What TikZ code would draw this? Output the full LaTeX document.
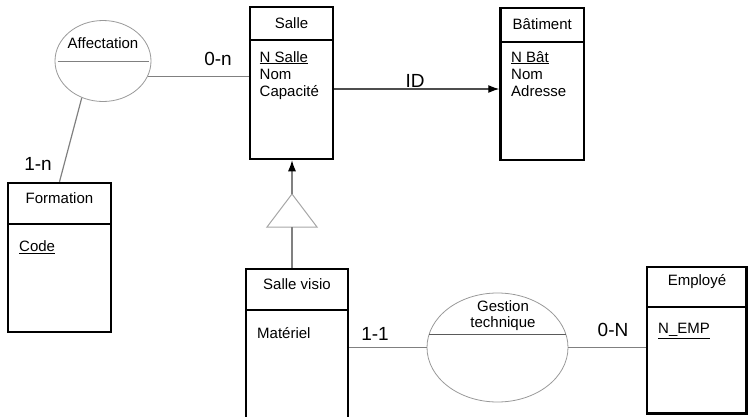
\documentclass[tikz,border=0pt]{standalone}
\usepackage{fontspec}
\setmainfont{Liberation Sans}
\usetikzlibrary{shapes.geometric,arrows.meta}
\definecolor{conn}{HTML}{808080}
\tikzset{
  entity/.style={draw=black, line width=2.5pt, rectangle, inner sep=0pt},
  sepline/.style={draw=black, line width=2.5pt},
  assoc/.style={draw=conn!80, line width=0.8pt, ellipse, inner sep=0pt},
  link/.style={draw=conn, line width=1.2pt},
  tip/.style={-{Latex[length=11pt,width=8pt,color=black]}},
  txt/.style={inner sep=0pt, font=\fontsize{15}{17}\selectfont},
  attr/.style={txt, anchor=west, align=left},
  card/.style={inner sep=0pt, font=\fontsize{19}{22}\selectfont},
}
\begin{document}
\begin{tikzpicture}[x=1pt,y=-1pt]
\useasboundingbox (0,0) rectangle (748,416);
\clip (0,0) rectangle (748,416);
% entities
\node[entity, minimum width=83pt, minimum height=152pt] (salle) at (291.5,83) {};
\draw[sepline] (250,40) -- (333,40);
\node[txt] (salleT) at (291.5,23) {Salle};
\node[txt, anchor=north west, align=left] (salleA) at (259.5,51) {\underline{N Salle}\\Nom\\Capacité};

\node[entity, minimum width=83.5pt, minimum height=152pt] (bat) at (542.25,84) {};
\draw[sepline] (500.5,42) -- (584,42);
\node[txt] (batT) at (542.25,24) {Bâtiment};
\node[txt, anchor=north west, align=left] (batA) at (511,51) {\underline{N Bât}\\Nom\\Adresse};

\node[entity, minimum width=103pt, minimum height=149pt] (form) at (59.5,257.5) {};
\draw[sepline] (8,224) -- (111,224);
\node[txt] (formT) at (59.5,198) {Formation};
\node[attr] (formA) at (19,247) {\underline{Code}};

\node[entity, minimum width=102pt, minimum height=171pt] (visio) at (297,354.5) {};
\draw[sepline] (246,310) -- (348,310);
\node[txt] (visioT) at (297,284) {Salle visio};
\node[attr] (visioA) at (257,333) {Matériel};

\node[entity, minimum width=99.5pt, minimum height=146.5pt] (emp) at (696.75,340.25) {};
\draw[sepline] (647,307) -- (746.5,307);
\node[txt] (empT) at (697,282) {Employé};
\node[attr] (empA) at (658,331) {\underline{N\_EMP}};

% associations
\node[assoc, minimum width=96pt, minimum height=81pt] (aff) at (103,61) {};
\draw[draw=conn, line width=1pt] (57.5,61) -- (148.5,61);
\node[txt] (affT) at (103,43) {Affectation};

\node[assoc, minimum width=141pt, minimum height=109pt] (gest) at (497.5,347.5) {};
\draw[draw=conn!70!black, line width=1pt] (429.2,334) -- (565.8,334);
\node[txt, align=center, font=\fontsize{15}{16.5}\selectfont] (gestT) at (503,315.5) {Gestion\\technique};

% connectors
\draw[link] (aff.-19) -- (aff.-19 -| salle.west);
\draw[link] (aff.240) -- (form.north);
\draw[link, draw=conn!60!black, tip] ([yshift=-6pt]salle.east) -- ([yshift=-6pt]salle.east -| bat.west);
% inheritance triangle
\coordinate (apex) at (292,194);
\coordinate (bl) at (267,227);
\coordinate (br) at (317,227);
\coordinate (bm) at (292,227);
\draw[draw=conn!70, line width=1pt, line join=miter] (apex) -- (bl) -- (br) -- cycle;
\draw[link, tip] (apex) -- (apex |- salle.south);
\draw[link] (visio.north -| bm) -- (bm);
\draw[link] (gest.west -| visio.east) -- (gest.west);
\draw[link] (gest.east) -- (gest.east -| emp.west);

% cardinalities
\node[card] (c1) at (218,59) {0-n};
\node[card] (c2) at (38,164) {1-n};
\node[card] (c3) at (415,81) {ID};
\node[card] (c4) at (375,334) {1-1};
\node[card] (c5) at (613,330) {0-N};
\end{tikzpicture}
\end{document}
